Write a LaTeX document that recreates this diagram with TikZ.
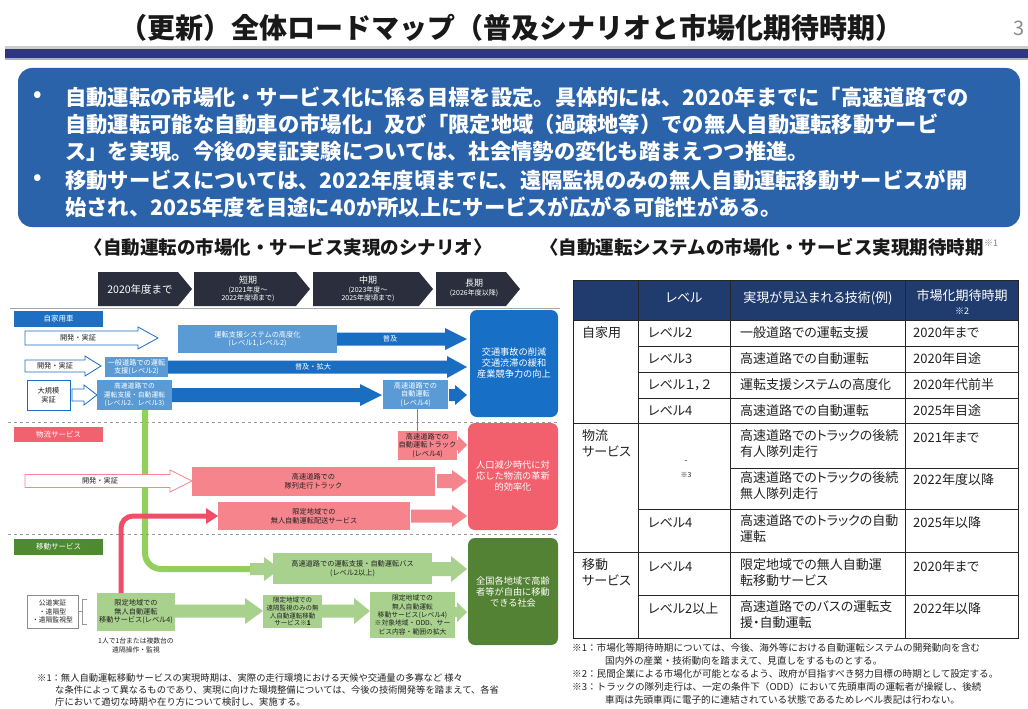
\documentclass[tikz,border=0pt]{standalone}
\usepackage{fontspec}
\setmainfont{Noto Sans CJK JP}
\newfontfamily\tbfont[RawFeature=+palt]{Noto Sans CJK JP}
\usetikzlibrary{arrows.meta}
\definecolor{navyBar}{HTML}{2E3581}
\definecolor{sumBlue}{HTML}{2B63AA}
\definecolor{chev}{HTML}{2B2E3C}
\definecolor{catBlue}{HTML}{1C6FC2}
\definecolor{lBlue}{HTML}{5B9BD5}
\definecolor{arrBlue}{HTML}{1A6EC2}
\definecolor{outBlue}{HTML}{176FC6}
\definecolor{catRed}{HTML}{F2616F}
\definecolor{pinkBox}{HTML}{F5848D}
\definecolor{redOut}{HTML}{F3606D}
\definecolor{redLine}{HTML}{F04E66}
\definecolor{catGreen}{HTML}{4E8A30}
\definecolor{lGreen}{HTML}{A9D18E}
\definecolor{gLine}{HTML}{92CF5C}
\definecolor{outGreen}{HTML}{538234}
\definecolor{tabHead}{HTML}{203C6F}
\definecolor{txt}{HTML}{222222}
\newcommand\fsz[2]{\fontsize{#1}{#2}\selectfont}
\newcommand\bx[7]{\node[#6,anchor=north west,minimum width={#4pt-#2pt},minimum height={#5pt-#3pt},inner sep=0pt,outer sep=0pt,align=center] (#1) at (#2,#3) {#7};}
\newcommand\fatarr[7]{\path[#7] (#1,#3-#4) -- (#2-#6,#3-#4) -- (#2-#6,#3-#5) -- (#2,#3) -- (#2-#6,#3+#5) -- (#2-#6,#3+#4) -- (#1,#3+#4) -- cycle;}
\tikzset{
  boxtxt/.style={font=\fsz{7.2}{8.6}, text=txt},
  whtxt/.style={font=\fsz{7.2}{8.6}, text=white},
  cat/.style={font=\fsz{7.5}{9}, text=white},
  outc/.style={rounded corners=7pt, font=\fsz{9.2}{11}, text=white},
  tb/.style={font=\tbfont\fsz{13}{16.5}, text=txt, anchor=west, inner sep=0pt},
  fn/.style={font=\fsz{9.6}{11}, text=txt, anchor=west, inner sep=0pt},
  sumt/.style={font=\bfseries\fsz{21.3}{24}, text=white, anchor=west, inner sep=0pt},
  chevt/.style={text=white, inner sep=0pt, align=center},
  grid/.style={draw=black!85, line width=0.9pt},
}
\begin{document}
\begin{tikzpicture}[x=1pt,y=-1pt]
\useasboundingbox[fill=white] (0,0) rectangle (1028,709);
% ---------- title ----------
\node[font=\bfseries\fsz{28}{32}, text=black!90, inner sep=0pt] (title) at (511,28) {（更新）全体ロードマップ（普及シナリオと市場化期待時期）};
\node[font=\fsz{20}{22}, text=black!45, inner sep=0pt] (pnum) at (1019,28) {3};
\fill[black!20] (5,46) rectangle (1028,49);
\fill[navyBar] (5,49) rectangle (1028,58);
\fill[navyBar!40] (5,58) rectangle (1028,60);
% ---------- summary ----------
\fill[sumBlue, rounded corners=14pt] (18,68) rectangle (1020,227);
\node[sumt] (b1) at (33,97) {•};
\node[sumt] (b2) at (33,180) {•};
\node[sumt] (s1) at (65,97) {自動運転の市場化・サービス化に係る目標を設定。具体的には、2020年までに「高速道路での};
\node[sumt] (s2) at (65,124) {自動運転可能な自動車の市場化」及び「限定地域（過疎地等）での無人自動運転移動サービ};
\node[sumt] (s3) at (65,151) {ス」を実現。今後の実証実験については、社会情勢の変化も踏まえつつ推進。};
\node[sumt] (s4) at (65,180) {移動サービスについては、2022年度頃までに、遠隔監視のみの無人自動運転移動サービスが開};
\node[sumt] (s5) at (65,207) {始され、2025年度を目途に40か所以上にサービスが広がる可能性がある。};
% ---------- sub headings ----------
\node[font=\bfseries\fsz{18.5}{21}, text=black!90, inner sep=0pt] (hl) at (288,247) {〈自動運転の市場化・サービス実現のシナリオ〉};
\node[font=\bfseries\fsz{18.5}{21}, text=black!90, inner sep=0pt, anchor=west] (hr) at (540,247) {〈自動運転システムの市場化・サービス実現期待時期};
\node[font=\fsz{9}{10}, text=black!50, inner sep=0pt, anchor=west] (hrn) at (hr.east) [yshift=4pt] {※1};
% ---------- timeline chevrons ----------
\fill[chev] (98,272) -- (178,272) -- (192,289) -- (178,306) -- (98,306) -- cycle;
\fill[chev] (194,272) -- (296,272) -- (310,289) -- (296,306) -- (194,306) -- cycle;
\fill[chev] (313,272) -- (419,272) -- (433,289) -- (419,306) -- (313,306) -- cycle;
\fill[chev] (436,272) -- (506,272) -- (520,289) -- (506,306) -- (436,306) -- cycle;
\node[chevt, font=\fsz{10.5}{12}] (c1) at (140,289) {2020年度まで};
\node[chevt, font=\fsz{7}{8.2}] (c2) at (248,289) {{\fsz{9}{10}短期}\\(2021年度～\\2022年度頃まで)};
\node[chevt, font=\fsz{7}{8.2}] (c3) at (368,289) {{\fsz{9}{10}中期}\\(2023年度～\\2025年度頃まで)};
\node[chevt, font=\fsz{7}{8.2}] (c4) at (474,288) {{\fsz{9}{10}長期}\\(2026年度以降)};
\draw[black!35, line width=0.8pt] (10,308) -- (560,308);
% ---------- 自家用車 ----------
\bx{catA}{14}{311}{103}{327}{fill=catBlue, cat}{自家用車}
\bx{outA}{470}{310}{558}{417}{fill=outBlue, outc}{交通事故の削減\\交通渋滞の緩和\\産業競争力の向上}
% row 1
\fatarr{25}{158}{338}{7}{11}{20}{draw=arrBlue, fill=white, line width=0.8pt}
\node[boxtxt] (a1t) at (78,338) {開発・実証};
\bx{a1b}{178}{325}{337}{353}{fill=lBlue, whtxt}{運転支援システムの高度化\\(レベル1,レベル2)}
\fatarr{337}{467}{339}{6.5}{11}{22}{fill=arrBlue}
\node[whtxt] (a1p) at (390,339) {普及};
% row 2
\fatarr{25}{101}{366}{6}{10}{16}{draw=arrBlue, fill=white, line width=0.8pt}
\node[boxtxt] (a2t) at (55,366) {開発・実証};
\bx{a2b}{105}{357}{168}{377}{fill=lBlue, whtxt}{一般道路での運転\\支援(レベル2)}
\fatarr{168}{467}{367}{6.5}{11}{20}{fill=arrBlue}
\node[whtxt] (a2p) at (313,367) {普及・拡大};
% row 3
\bx{a3w}{27}{380}{70}{410}{draw=arrBlue, fill=white, line width=0.8pt, boxtxt}{大規模\\実証}
\fatarr{72}{97}{395}{6}{10}{13}{draw=arrBlue, fill=white, line width=0.8pt}
\bx{a3b}{97}{380}{172}{410}{fill=lBlue, whtxt, font=\fsz{6.8}{8.4}}{高速道路での\\運転支援・自動運転\\(レベル2、レベル3)}
\fatarr{172}{382}{395}{7}{11}{22}{fill=arrBlue}
\bx{a3c}{383}{380}{448}{409}{fill=lBlue, whtxt}{高速道路での\\自動運転\\(レベル4)}
\fatarr{449}{467}{395}{6}{10}{12}{fill=arrBlue}
\draw[black!40, dashed, line width=0.8pt] (8,422) -- (560,422);
% ---------- green long line (behind) ----------
\coordinate (gstart) at (a3b.south -| 145,0);
\draw[gLine, line width=6pt, rounded corners=16pt] (gstart) -- (gstart |- 0,569) -- (272,569);
\fatarr{250}{280}{569}{6}{12}{16}{fill=lGreen}
% ---------- 物流サービス ----------
\bx{catB}{14}{427}{103}{442}{fill=catRed, cat}{物流サービス}
\bx{outB}{468}{423}{558}{530}{fill=redOut, outc}{人口減少時代に対\\応した物流の革新\\的効率化}
\draw[redLine, line width=1.6pt] (a3c.south) ++(2,0) coordinate (rs) -- (rs |- 0,445) coordinate (rc) -- (398,445);
\bx{b1b}{398}{431}{457}{460}{fill=pinkBox, boxtxt}{高速道路での\\自動運転トラック\\(レベル4)}
\fatarr{457}{467}{445}{5}{9}{9}{fill=pinkBox}
\fatarr{25}{192}{481}{6.5}{11}{22}{draw=pinkBox, fill=white, line width=0.8pt}
\node[boxtxt] (b2t) at (100,481) {開発・実証};
\bx{b2b}{192}{467}{435}{496}{fill=pinkBox, boxtxt}{高速道路での\\隊列走行トラック}
\fatarr{437}{467}{481}{7}{11}{15}{fill=pinkBox}
\bx{b3b}{218}{502}{410}{530}{fill=pinkBox, boxtxt}{限定地域での\\無人自動運転配送サービス}
\fatarr{411}{467}{516}{6.5}{11}{15}{fill=pinkBox}
\draw[black!40, dashed, line width=0.8pt] (8,534) -- (560,534);
% ---------- 移動サービス ----------
\bx{catC}{14}{539}{103}{555}{fill=catGreen, cat}{移動サービス}
\bx{outC}{468}{538}{558}{645}{fill=outGreen, outc}{全国各地域で高齢\\者等が自由に移動\\できる社会}
\bx{c1b}{273}{553}{432}{584}{fill=lGreen, boxtxt}{高速道路での運転支援・自動運転バス\\(レベル2以上)}
\fatarr{432}{467}{569}{7}{13}{16}{fill=lGreen}
\bx{c2w}{27}{595}{78}{628}{draw=black!45, fill=white, line width=0.6pt, font=\fsz{6.8}{8.4}, text=txt, align=left}{公道実証\\・遠隔型\\・遠隔監視型}
\draw[black!40, line width=0.6pt] (c2w.east) -- ++(4,0) coordinate (brk);
\draw[black!40, line width=0.6pt] ([xshift=5pt]brk |- 0,599) -- (brk |- 0,599) -- (brk |- 0,624) -- ([xshift=5pt]brk |- 0,624);
\bx{c2b}{97}{593}{175}{631}{fill=lGreen, boxtxt}{限定地域での\\無人自動運転\\移動サービス(レベル4)}
\node[boxtxt, align=center, font=\fsz{6.8}{9}] (c2n) at (136,645) {1人で1台または複数台の\\遠隔操作・監視};
\fatarr{175}{263}{611}{6.5}{13}{18}{fill=lGreen}
\bx{c3b}{263}{595}{322}{628}{fill=lGreen, boxtxt, font=\fsz{6.5}{7.9}}{限定地域での\\遠隔監視のみの無\\人自動運転移動\\サービス※\textbf{1}}
\fatarr{322}{370}{611}{6.5}{13}{16}{fill=lGreen}
\bx{c4b}{370}{592}{455}{638}{fill=lGreen, boxtxt, font=\fsz{6.8}{8.3}}{限定地域での\\無人自動運転\\移動サービス(レベル4)\\※対象地域・ODD、サー\\ビス内容・範囲の拡大}
\fatarr{455}{467}{612}{5}{10}{10}{fill=lGreen}
% ---------- red thick line ----------
\draw[redLine, line width=5pt, rounded corners=12pt] (c2b.north) ++(-15,0) coordinate (rstart) -- (rstart |- 0,516) -- (208,516);
\fill[redLine] (206,508) -- (218,516) -- (206,524) -- cycle;
% ---------- left footnote ----------
\node[fn, font=\fsz{9.3}{11}] (lf1) at (37,678) {※1：無人自動運転移動サービスの実現時期は、実際の走行環境における天候や交通量の多寡など 様々};
\node[fn, font=\fsz{9.3}{11}] (lf2) at (55,690) {な条件によって異なるものであり、実現に向けた環境整備については、今後の技術開発等を踏まえて、各省};
\node[fn, font=\fsz{9.3}{11}] (lf3) at (55,702) {庁において適切な時期や在り方について検討し、実施する。};
% ---------- table ----------
\fill[tabHead] (573,280) rectangle (1018,320);
\draw[grid] (573,280) rectangle (1018,638);
\draw[grid] (638,280) -- (638,638);
\draw[grid] (730,280) -- (730,638);
\draw[grid] (905,280) -- (905,638);
\draw[grid] (573,320) -- (1018,320);
\draw[grid] (638,346) -- (1018,346);
\draw[grid] (638,372) -- (1018,372);
\draw[grid] (638,398) -- (1018,398);
\draw[grid] (573,423) -- (1018,423);
\draw[grid] (730,468) -- (1018,468);
\draw[grid] (638,509) -- (1018,509);
\draw[grid] (573,552) -- (1018,552);
\draw[grid] (638,595) -- (1018,595);
\node[tb, text=white, anchor=center] (th2) at (684,298) {レベル};
\node[tb, text=white, anchor=center] (th3) at (818,298) {実現が見込まれる技術(例)};
\node[tb, text=white, anchor=center] (th4) at (962,296) {市場化期待時期};
\node[font=\fsz{9}{10}, text=white, inner sep=0pt] (th4n) at (962,311) {※2};
\node[tb] (r1a) at (582,333) {自家用};
\node[tb] (r1b) at (648,333) {レベル2};
\node[tb] (r1c) at (740,333) {一般道路での運転支援};
\node[tb] (r1d) at (913,333) {2020年まで};
\node[tb] (r2b) at (648,359) {レベル3};
\node[tb] (r2c) at (740,359) {高速道路での自動運転};
\node[tb] (r2d) at (913,359) {2020年目途};
\node[tb] (r3b) at (648,385) {レベル１，２};
\node[tb] (r3c) at (740,385) {運転支援システムの高度化};
\node[tb] (r3d) at (913,385) {2020年代前半};
\node[tb] (r4b) at (648,411) {レベル4};
\node[tb] (r4c) at (740,411) {高速道路での自動運転};
\node[tb] (r4d) at (913,411) {2025年目途};
\node[tb, align=left, anchor=north west] (r5a) at (582,429) {物流\\サービス};
\node[font=\fsz{9}{10}, text=txt, inner sep=0pt] (r5b) at (686,462) {-};
\node[font=\fsz{7}{8}, text=txt, inner sep=0pt] (r5n) at (686,475) {※3};
\node[tb, align=left, anchor=north west] (r5c) at (740,429) {高速道路でのトラックの後続\\有人隊列走行};
\node[tb] (r5d) at (913,438) {2021年まで};
\node[tb, align=left, anchor=north west] (r6c) at (740,471) {高速道路でのトラックの後続\\無人隊列走行};
\node[tb] (r6d) at (913,480) {2022年度以降};
\node[tb] (r7b) at (648,523) {レベル4};
\node[tb, align=left, anchor=north west] (r7c) at (740,514) {高速道路でのトラックの自動\\運転};
\node[tb] (r7d) at (913,523) {2025年以降};
\node[tb, align=left, anchor=north west] (r8a) at (582,558) {移動\\サービス};
\node[tb] (r8b) at (648,567) {レベル4};
\node[tb, align=left, anchor=north west] (r8c) at (740,558) {限定地域での無人自動運\\転移動サービス};
\node[tb] (r8d) at (913,567) {2020年まで};
\node[tb] (r9b) at (648,609) {レベル2以上};
\node[tb, align=left, anchor=north west] (r9c) at (740,600) {高速道路でのバスの運転支\\援・自動運転};
\node[tb] (r9d) at (913,609) {2022年以降};
% ---------- right footnotes ----------
\node[fn] (rf1) at (572,648) {※1：市場化等期待時期については、今後、海外等における自動運転システムの開発動向を含む};
\node[fn] (rf2) at (605,661) {国内外の産業・技術動向を踏まえて、見直しをするものとする。};
\node[fn] (rf3) at (572,674) {※2：民間企業による市場化が可能となるよう、政府が目指すべき努力目標の時期として設定する。};
\node[fn] (rf4) at (572,687) {※3：トラックの隊列走行は、一定の条件下（ODD）において先頭車両の運転者が操縦し、後続};
\node[fn] (rf5) at (605,700) {車両は先頭車両に電子的に連結されている状態であるためレベル表記は行わない。};
\end{tikzpicture}
\end{document}
